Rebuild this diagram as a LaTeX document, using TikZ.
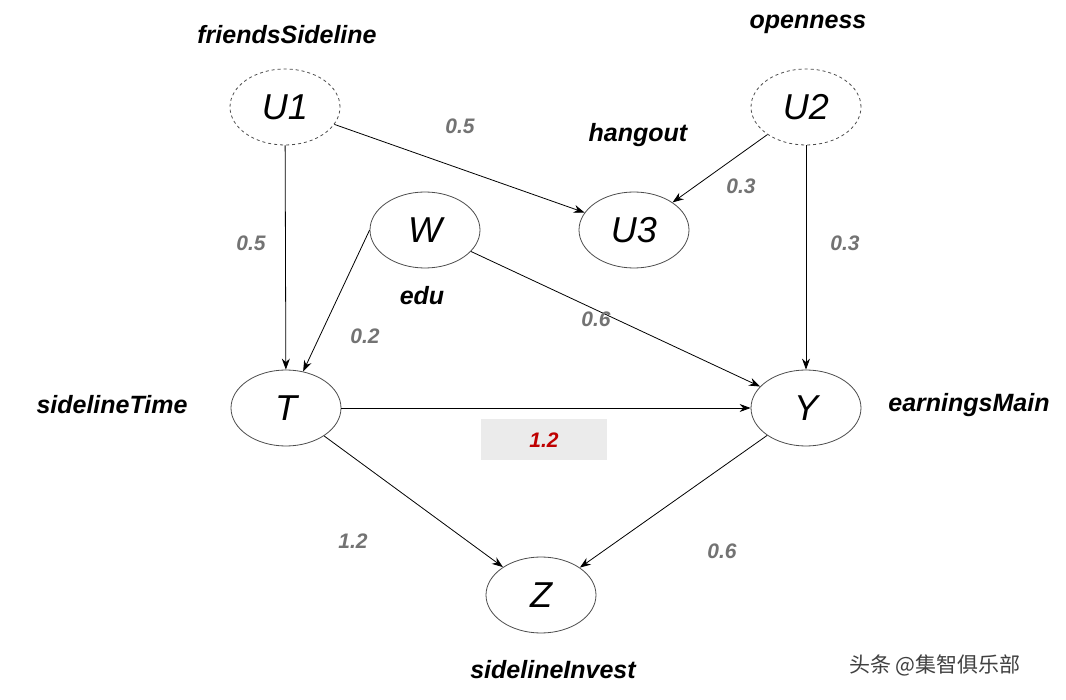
\documentclass[tikz,border=0pt]{standalone}
\usepackage{fontspec}
\setmainfont{Liberation Sans}
\newfontfamily\cjk{Noto Sans CJK SC}
\usetikzlibrary{arrows.meta,shapes.geometric}
\begin{document}
\begin{tikzpicture}[x=1pt,y=-1pt,
  var/.style={ellipse,draw=black!70,line width=0.8pt,minimum width=110pt,minimum height=76pt,inner sep=0pt,font=\fontsize{36}{36}\selectfont\itshape},
  latent/.style={var,dashed},
  lab/.style={font=\fontsize{25}{25}\selectfont\bfseries\itshape},
  wt/.style={font=\fontsize{21}{21}\selectfont\bfseries\itshape,text=black!55},
  arr/.style={-{Stealth[length=11pt,width=8pt]},line width=0.8pt}]
\useasboundingbox (0,0) rectangle (1066,700);
\fill[white] (0,0) rectangle (1066,700);
\node[latent] (U1) at (285,107) {U1};
\node[latent] (U2) at (806,107) {U2};
\node[var] (W) at (425,230) {W};
\node[var] (U3) at (634,230) {U3};
\node[var] (T) at (286,408) {T};
\node[var] (Y) at (806,408) {Y};
\node[var] (Z) at (541,595) {Z};
\node[lab] (l1) at (287,35) {friendsSideline};
\node[lab] (l2) at (808,24) {openness};
\node[lab] (l3) at (638,135) {hangout};
\node[lab] (l4) at (422,296) {edu};
\node[lab] (l5) at (112,405) {sidelineTime};
\node[lab] (l6) at (969,405) {earningsMain};
\node[lab] (l7) at (553,670) {sidelineInvest};
\draw[arr] (U1) -- (U3);
\draw[arr] (U1) -- (T);
\draw[arr] (U2) -- (U3);
\draw[arr] (U2) -- (Y);
\draw[arr] (W.west) -- (T);
\draw[arr] (W) -- (Y);
\draw[arr] (T) -- (Y);
\draw[arr] (T) -- (Z);
\draw[arr] (Y) -- (Z);
\node[wt] (w1) at (460,126) {0.5};
\node[wt] (w2) at (251,243) {0.5};
\node[wt] (w3) at (741,186) {0.3};
\node[wt] (w4) at (845,243) {0.3};
\node[wt] (w5) at (365,336) {0.2};
\node[wt] (w6) at (596,319) {0.6};
\node[wt] (w7) at (353,541) {1.2};
\node[wt] (w8) at (722,551) {0.6};
\node[fill=black!8,minimum width=126pt,minimum height=41pt,font=\fontsize{21}{21}\selectfont\bfseries\itshape,text=red!75!black] (w9) at (544,440) {1.2};
\node[font=\cjk\fontsize{21}{21}\selectfont,text=black!75] (wm) at (935,665) {头条 @集智俱乐部};
\end{tikzpicture}
\end{document}
